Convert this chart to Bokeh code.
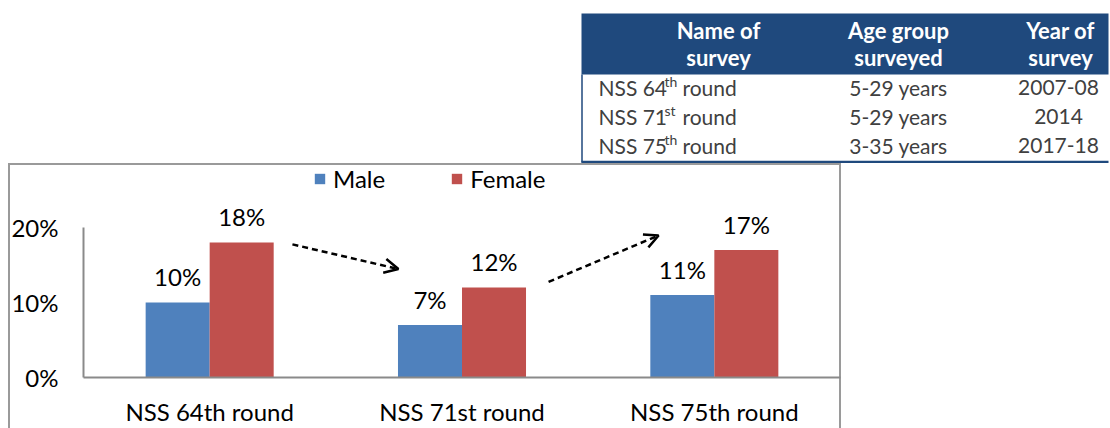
from bokeh.plotting import figure
from bokeh.models import (FactorRange, Range1d, FixedTicker, NumeralTickFormatter, Legend,
                          LegendItem, Arrow, OpenHead, ColumnDataSource, Spacer)
from bokeh.transform import dodge
from bokeh.layouts import column, row
from bokeh.core.properties import value
from bokeh.embed import file_html
from bokeh.resources import INLINE

# ---------------- data ----------------
categories = ["NSS 64th round", "NSS 71st round", "NSS 75th round"]
series = ["Male", "Female"]
male = [0.10, 0.07, 0.11]
female = [0.18, 0.12, 0.17]
y_ticks = [0.0, 0.1, 0.2]

table_headers = [["Name of", "survey"], ["Age group", "surveyed"], ["Year of", "survey"]]
survey_names = ["NSS 64", "NSS 71", "NSS 75"]
survey_sup = ["th", "st", "th"]
survey_tail = ["round", "round", "round"]
age_groups = ["5-29 years", "5-29 years", "3-35 years"]
years = ["2007-08", "2014", "2017-18"]

# ---------------- styles ----------------
FONT = "Lato"
BLUE = "#4F81BD"
RED = "#C0504D"
HEAD = "#1F497D"
AXIS = "#8a8a8a"
BODY_TXT = "#404040"
FS = "24px"

# ---------------- table (top right) ----------------
tf = figure(width=538, height=163, x_range=Range1d(572, 1110), y_range=Range1d(163, 0),
            toolbar_location=None, output_backend="svg", min_border=0,
            x_axis_location=None, y_axis_location=None, outline_line_color=None)
tf.grid.visible = False
tf.quad(left=[581], right=[1108], top=[13], bottom=[74], fill_color=HEAD, line_color=None)
tf.segment(x0=[581.5], y0=[74], x1=[581.5], y1=[162], line_color=HEAD, line_width=1.5)
tf.segment(x0=[581], y0=[161.5], x1=[1108], y1=[161.5], line_color=HEAD, line_width=2.5)

col_centers = [718, 898, 1060]
head_y = [30, 57]
hx, hy, ht = [], [], []
for j, lines in enumerate(table_headers):
    for k, t in enumerate(lines):
        hx.append(col_centers[j]); hy.append(head_y[k]); ht.append(t)
tf.text(x=hx, y=hy, text=ht, text_align="center", text_baseline="middle",
        text_font=value(FONT), text_font_style="bold", text_font_size="22px", text_color="white")

row_y = [87, 116, 145]
tf.text(x=[598] * 3, y=row_y, text=survey_names, text_align="left", text_baseline="middle",
        text_font=value(FONT), text_font_size="21px", text_color=BODY_TXT)
tf.text(x=[664] * 3, y=[v - 6 for v in row_y], text=survey_sup, text_align="left",
        text_baseline="middle", text_font=value(FONT), text_font_size="14px", text_color=BODY_TXT)
tf.text(x=[682] * 3, y=row_y, text=survey_tail, text_align="left", text_baseline="middle",
        text_font=value(FONT), text_font_size="21px", text_color=BODY_TXT)
tf.text(x=[898] * 3, y=row_y, text=age_groups, text_align="center", text_baseline="middle",
        text_font=value(FONT), text_font_size="21px", text_color=BODY_TXT)
tf.text(x=[1058] * 3, y=row_y, text=years, text_align="center", text_baseline="middle",
        text_font=value(FONT), text_font_size="21px", text_color=BODY_TXT)

# ---------------- bar chart ----------------
px_per_unit = 760.0   # pixels per 1.0 (100%)
top_b, bot_b = 0, 48
H = 265
frame_h = H - top_b - bot_b
p = figure(width=833, height=H, x_range=FactorRange(factors=categories, range_padding=0),
           y_range=Range1d(0, frame_h / px_per_unit),
           toolbar_location=None, output_backend="svg",
           min_border_left=75, min_border_right=1, min_border_top=top_b, min_border_bottom=bot_b,
           outline_line_color=None, border_fill_color=None, background_fill_color=None,
           styles={"box-shadow": "inset 2px 0 0 #9a9a9a, inset -2px 0 0 #9a9a9a, inset 0 2px 0 #9a9a9a"})
p.grid.visible = False

src = ColumnDataSource(dict(cats=categories, male=male, female=female,
                            male_lbl=[f"{round(v * 100)}%" for v in male],
                            female_lbl=[f"{round(v * 100)}%" for v in female]))
bw = 0.2537
r_m = p.vbar(x=dodge("cats", -bw / 2, range=p.x_range), top="male", width=bw, source=src,
             fill_color=BLUE, line_color=None)
r_f = p.vbar(x=dodge("cats", bw / 2, range=p.x_range), top="female", width=bw, source=src,
             fill_color=RED, line_color=None)
for col, off in (("male", -bw / 2), ("female", bw / 2)):
    p.text(x=dodge("cats", off, range=p.x_range), y=col, text=col + "_lbl", source=src,
           text_align="center", text_baseline="middle", y_offset=-26,
           text_font=value(FONT), text_font_size=FS, text_color="black")

for ax in (p.xaxis[0], p.yaxis[0]):
    ax.axis_line_color = AXIS
    ax.axis_line_width = 2
    ax.major_tick_in = 0
    ax.major_tick_out = 0
    ax.minor_tick_in = 0
    ax.minor_tick_out = 0
    ax.major_label_text_font = FONT
    ax.major_label_text_font_size = FS
    ax.major_label_text_color = "black"
p.xaxis.major_label_standoff = 19
p.yaxis.major_label_standoff = 25
p.yaxis.ticker = FixedTicker(ticks=y_ticks)
p.yaxis.formatter = NumeralTickFormatter(format="0%")
p.yaxis.bounds = (y_ticks[0], y_ticks[-1])

legend = Legend(items=[LegendItem(label=series[0], renderers=[r_m]),
                       LegendItem(label=series[1], renderers=[r_f])],
                orientation="horizontal", location=(230, 184), glyph_width=13, glyph_height=13,
                label_standoff=7, spacing=65, padding=0, margin=0, border_line_color=None,
                background_fill_alpha=0, label_text_font=FONT, label_text_font_size=FS,
                label_text_color="black")
p.add_layout(legend)

for xs, ys, xe, ye in ((0.828, 0.1776, 1.248, 0.1447), (1.843, 0.1276, 2.279, 0.1895)):
    p.add_layout(Arrow(end=OpenHead(size=14, line_width=2.5, line_color="black"),
                       x_start=xs, y_start=ys, x_end=xe, y_end=ye,
                       line_dash="6 4", line_width=2.5, line_color="black"))

layout = column(row(Spacer(width=572, height=163), tf), row(Spacer(width=8, height=H), p))
open("out.html", "w").write(file_html(layout, INLINE))
